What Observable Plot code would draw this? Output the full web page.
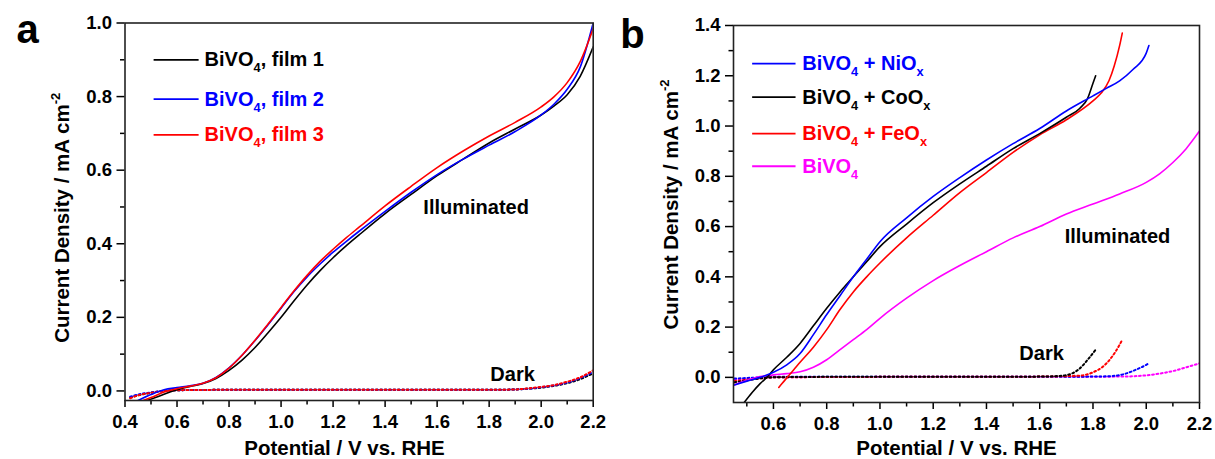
<!DOCTYPE html>
<html><head><meta charset="utf-8">
<script src="https://cdn.jsdelivr.net/npm/d3@7"></script>
<script src="https://cdn.jsdelivr.net/npm/@observablehq/plot@0.6"></script>
<style>
html,body{margin:0;padding:0;background:#fff;}
#wrap{position:relative;width:1215px;height:459px;overflow:hidden;background:#fff;}
#wrap svg{position:absolute;top:0;overflow:visible;}
</style></head><body><div id="wrap"></div>
<script>
// ---------- Panel a data (Potential / V vs. RHE, Current density / mA cm-2) ----------
const aFilm1X = [0.485,0.52,0.55,0.6,0.65,0.7,0.75,0.8,0.85,0.9,0.95,1.0,1.05,1.1,1.15,1.2,1.25,1.3,1.4,1.5,1.6,1.7,1.8,1.9,2.0,2.05,2.1,2.15,2.2];
const aFilm1Y = [-0.026,-0.017,-0.009,0.003,0.012,0.02,0.034,0.056,0.084,0.118,0.158,0.2,0.245,0.288,0.327,0.362,0.394,0.424,0.482,0.534,0.585,0.63,0.674,0.712,0.75,0.775,0.805,0.855,0.935];
const aFilm2X = [0.45,0.5,0.55,0.6,0.65,0.7,0.75,0.8,0.85,0.9,0.95,1.0,1.05,1.1,1.15,1.2,1.25,1.3,1.4,1.5,1.6,1.7,1.8,1.9,2.0,2.05,2.1,2.15,2.2];
const aFilm2Y = [-0.026,-0.01,0.003,0.009,0.014,0.021,0.037,0.063,0.097,0.137,0.18,0.225,0.27,0.31,0.345,0.377,0.406,0.434,0.488,0.54,0.588,0.63,0.668,0.705,0.75,0.78,0.82,0.88,1.0];
const aFilm3X = [0.47,0.5,0.55,0.6,0.65,0.7,0.75,0.8,0.85,0.9,0.95,1.0,1.05,1.1,1.15,1.2,1.25,1.3,1.4,1.5,1.6,1.7,1.8,1.9,2.0,2.05,2.1,2.15,2.2];
const aFilm3Y = [-0.026,-0.018,-0.003,0.006,0.013,0.021,0.036,0.062,0.097,0.138,0.182,0.227,0.272,0.314,0.352,0.385,0.416,0.445,0.503,0.556,0.607,0.652,0.693,0.73,0.772,0.8,0.838,0.895,0.985];
const aDarkX  = [0.42,0.45,0.5,0.55,0.6,0.8,1.0,1.5,1.8,1.9,1.95,2.0,2.05,2.1,2.15,2.2];
const aDark1Y = [-0.018,-0.012,-0.005,0.0,0.002,0.003,0.003,0.003,0.003,0.004,0.006,0.009,0.014,0.021,0.032,0.048];
const aDark2Y = [-0.016,-0.01,-0.004,0.0,0.002,0.003,0.003,0.003,0.003,0.004,0.006,0.01,0.015,0.023,0.035,0.052];
const aDark3Y = [-0.02,-0.012,-0.005,0.0,0.002,0.003,0.003,0.003,0.003,0.004,0.007,0.011,0.016,0.025,0.037,0.056];
const aLegendLabels = ["BiVO_{4}, film 1","BiVO_{4}, film 2","BiVO_{4}, film 3"];
const aColors = ["#000000","#0000ff","#ff0000"];
const aXTicks = [0.4,0.6,0.8,1.0,1.2,1.4,1.6,1.8,2.0,2.2];
const aYTicks = [0.0,0.2,0.4,0.6,0.8,1.0];

// ---------- Panel b data ----------
const bNiX = [0.453,0.5,0.55,0.6,0.65,0.7,0.75,0.8,0.85,0.9,0.95,1.0,1.1,1.2,1.3,1.4,1.5,1.6,1.7,1.8,1.85,1.9,1.95,2.0,2.01];
const bNiY = [-0.03,-0.015,0.0,0.02,0.05,0.095,0.17,0.25,0.325,0.4,0.47,0.54,0.635,0.72,0.795,0.865,0.93,0.99,1.06,1.12,1.15,1.18,1.225,1.29,1.32];
const bCoX = [0.49,0.52,0.55,0.58,0.6,0.65,0.7,0.75,0.8,0.85,0.9,0.95,1.0,1.1,1.2,1.3,1.4,1.5,1.6,1.7,1.75,1.78,1.8,1.81];
const bCoY = [-0.1,-0.06,-0.025,0.005,0.03,0.08,0.135,0.205,0.275,0.34,0.4,0.46,0.52,0.61,0.695,0.77,0.84,0.91,0.97,1.035,1.07,1.11,1.17,1.2];
const bFeX = [0.62,0.64,0.66,0.7,0.75,0.8,0.85,0.9,0.95,1.0,1.1,1.2,1.3,1.4,1.5,1.6,1.7,1.8,1.83,1.86,1.88,1.9,1.91];
const bFeY = [-0.04,-0.015,0.01,0.06,0.12,0.19,0.27,0.34,0.4,0.455,0.555,0.645,0.735,0.815,0.895,0.965,1.025,1.1,1.13,1.18,1.24,1.32,1.37];
const bBiX = [0.453,0.5,0.55,0.6,0.65,0.7,0.75,0.8,0.85,0.9,0.95,1.0,1.1,1.2,1.3,1.4,1.5,1.6,1.7,1.8,1.9,2.0,2.05,2.1,2.15,2.2];
const bBiY = [-0.03,-0.012,0.003,0.01,0.015,0.022,0.04,0.07,0.11,0.15,0.19,0.235,0.315,0.385,0.445,0.5,0.555,0.6,0.65,0.69,0.73,0.776,0.81,0.855,0.91,0.98];
const bCoDarkX = [0.453,0.5,0.55,0.6,0.8,1.2,1.6,1.68,1.72,1.75,1.78,1.81];
const bCoDarkY = [-0.02,-0.012,-0.004,0.0,0.002,0.002,0.003,0.006,0.015,0.035,0.07,0.11];
const bFeDarkX = [0.453,0.55,0.6,1.0,1.6,1.75,1.8,1.84,1.87,1.9,1.91];
const bFeDarkY = [-0.015,-0.004,0.0,0.002,0.003,0.007,0.02,0.045,0.08,0.13,0.15];
const bNiDarkX = [0.453,0.55,0.6,1.0,1.8,1.88,1.92,1.96,2.0,2.01];
const bNiDarkY = [-0.005,0.0,0.002,0.002,0.003,0.006,0.014,0.03,0.05,0.056];
const bBiDarkX = [0.453,0.6,1.0,1.9,2.0,2.05,2.1,2.15,2.2];
const bBiDarkY = [-0.01,0.0,0.002,0.003,0.008,0.015,0.025,0.04,0.056];
const bLegendLabels = ["BiVO_{4} + NiO_{x}","BiVO_{4} + CoO_{x}","BiVO_{4} + FeO_{x}","BiVO_{4}"];
const bColors = ["#0000ff","#000000","#ff0000","#ff00ff"];
const bXTicks = [0.6,0.8,1.0,1.2,1.4,1.6,1.8,2.0,2.2];
const bYTicks = [0.0,0.2,0.4,0.6,0.8,1.0,1.2,1.4];

const xTitle = "Potential / V vs. RHE";
const yTitle = "Current Density / mA cm^{-2}";
const FONT = "'Liberation Sans', Arial, Helvetica, sans-serif";

const rows = (xs, ys) => xs.map((x, i) => ({x, y: ys[i]}));
const minorBetween = (majors) => majors.slice(0, -1).map((v, i) => +((v + majors[i+1]) / 2).toFixed(2));

function scripts(svg) {
  d3.select(svg).selectAll("text").each(function() {
    const el = this, t = el.textContent;
    if (!/[_^]\{/.test(t)) return;
    const fs = parseFloat(getComputedStyle(el).fontSize) || 20;
    while (el.firstChild) el.removeChild(el.firstChild);
    const sel = d3.select(el), re = /([_^])\{([^}]*)\}|([^_^]+)/g;
    let m, shift = 0;
    while ((m = re.exec(t))) {
      const ts = sel.append("tspan");
      if (m[3] !== undefined) { ts.text(m[3]); if (shift) { ts.attr("dy", -shift); shift = 0; } }
      else {
        const s = m[1] === "_" ? 0.3 * fs : -0.42 * fs;
        ts.attr("dy", s - shift).style("font-size", (0.64 * fs) + "px").text(m[2]);
        shift = s;
      }
    }
  });
}

function panel(cfg) {
  const solid = cfg.solid.map(([xs, ys, c]) => Plot.line(rows(xs, ys), {x: "x", y: "y", stroke: c, strokeWidth: 1.6, curve: "monotone-x", clip: true}));
  const dotted = cfg.dotted.map(([xs, ys, c]) => Plot.line(rows(xs, ys), {x: "x", y: "y", stroke: c, strokeWidth: 2, strokeDasharray: "1.8 2.6", curve: "monotone-x", clip: true}));
  const leg = cfg.legLabels.map((label, i) => ({label, color: cfg.legColors[i], y: cfg.legY[i], x1: cfg.legX[0], x2: cfg.legX[1], xt: cfg.legX[2]}));
  const centered = {textAnchor: "middle", lineAnchor: "middle"};
  return Plot.plot({
    width: cfg.width, height: 459,
    marginLeft: cfg.ml, marginRight: cfg.mr, marginTop: cfg.mt, marginBottom: cfg.mb,
    style: {fontFamily: FONT, fontWeight: "bold", fontSize: "18.5px", color: "#000", background: "transparent", overflow: "visible"},
    x: {domain: cfg.xDomain},
    y: {domain: cfg.yDomain},
    color: {type: "identity"},
    marks: [
      ...dotted,
      ...solid,
      Plot.axisX({ticks: cfg.xTicks, tickSize: 7, tickPadding: 7, tickFormat: d3.format(".1f"), label: null, strokeWidth: 1.5, fontSize: 18.5}),
      Plot.axisX({ticks: cfg.xMinor, tickSize: 4.5, tickFormat: () => "", label: null, strokeWidth: 1.5}),
      Plot.axisY({ticks: cfg.yTicks, tickSize: 8, tickPadding: 5, tickFormat: d3.format(".1f"), label: null, strokeWidth: 1.5, fontSize: 18.5}),
      Plot.axisY({ticks: cfg.yMinor, tickSize: 4.5, tickFormat: () => "", label: null, strokeWidth: 1.5}),
      Plot.frame({stroke: "#222", strokeWidth: 1.6}),
      Plot.link(leg, {x1: "x1", x2: "x2", y1: "y", y2: "y", stroke: "color", strokeWidth: 1.8}),
      Plot.text(leg, {x: "xt", y: "y", text: "label", fill: "color", textAnchor: "start", fontSize: 20}),
      Plot.text(cfg.notes, {x: "x", y: "y", text: "t", fontSize: 20, fill: "#000"}),
      Plot.text([xTitle], {frameAnchor: "bottom", text: d => d, dx: cfg.xtDx, dy: cfg.xtDy, fontSize: 20.5, ...centered}),
      Plot.text([yTitle], {frameAnchor: "left", text: d => d, rotate: -90, dx: cfg.ytDx, dy: cfg.ytDy, fontSize: 20.5, ...centered}),
      Plot.text([cfg.letter], {frameAnchor: "top-left", text: d => d, dx: cfg.lDx, dy: cfg.lDy, fontSize: 40, ...centered})
    ]
  });
}

const svgA = panel({
  width: 607, ml: 124.5, mr: 14.3, mt: 22.5, mb: 59,
  xDomain: [0.4, 2.2], yDomain: [-0.026, 1.0],
  xTicks: aXTicks, xMinor: minorBetween(aXTicks),
  yTicks: aYTicks, yMinor: minorBetween(aYTicks),
  solid: [[aFilm1X, aFilm1Y, aColors[0]], [aFilm2X, aFilm2Y, aColors[1]], [aFilm3X, aFilm3Y, aColors[2]]],
  dotted: [[aDarkX, aDark1Y, aColors[0]], [aDarkX, aDark2Y, aColors[1]], [aDarkX, aDark3Y, aColors[2]]],
  legLabels: aLegendLabels, legColors: aColors, legY: [0.9, 0.793, 0.696], legX: [0.51, 0.683, 0.706],
  notes: [{x: 1.75, y: 0.498, t: "Illuminated"}, {x: 1.89, y: 0.045, t: "Dark"}],
  xtDx: -14.6, xtDy: 48.3, ytDx: -62.5, ytDy: 6, letter: "a", lDx: -97.5, lDy: 7.1
});
svgA.style.left = "0px";

const svgB = panel({
  width: 608, ml: 126, mr: 16, mt: 25, mb: 57,
  xDomain: [0.45, 2.2], yDomain: [-0.1, 1.4],
  xTicks: bXTicks, xMinor: [0.5, ...minorBetween(bXTicks)],
  yTicks: bYTicks, yMinor: minorBetween(bYTicks),
  solid: [[bBiX, bBiY, bColors[3]], [bFeX, bFeY, bColors[2]], [bCoX, bCoY, bColors[1]], [bNiX, bNiY, bColors[0]]],
  dotted: [[bBiDarkX, bBiDarkY, bColors[3]], [bNiDarkX, bNiDarkY, bColors[0]], [bFeDarkX, bFeDarkY, bColors[2]], [bCoDarkX, bCoDarkY, bColors[1]]],
  legLabels: bLegendLabels, legColors: bColors, legY: [1.248, 1.115, 0.97, 0.84], legX: [0.52, 0.683, 0.708],
  notes: [{x: 1.892, y: 0.559, t: "Illuminated"}, {x: 1.607, y: 0.096, t: "Dark"}],
  xtDx: -10, xtDy: 46.3, ytDx: -62, ytDy: -9.5, letter: "b", lDx: -101, lDy: 9.2
});
svgB.style.left = "607px";

const wrap = document.getElementById("wrap");
wrap.appendChild(svgA);
wrap.appendChild(svgB);
scripts(svgA);
scripts(svgB);
</script>
</body></html>
